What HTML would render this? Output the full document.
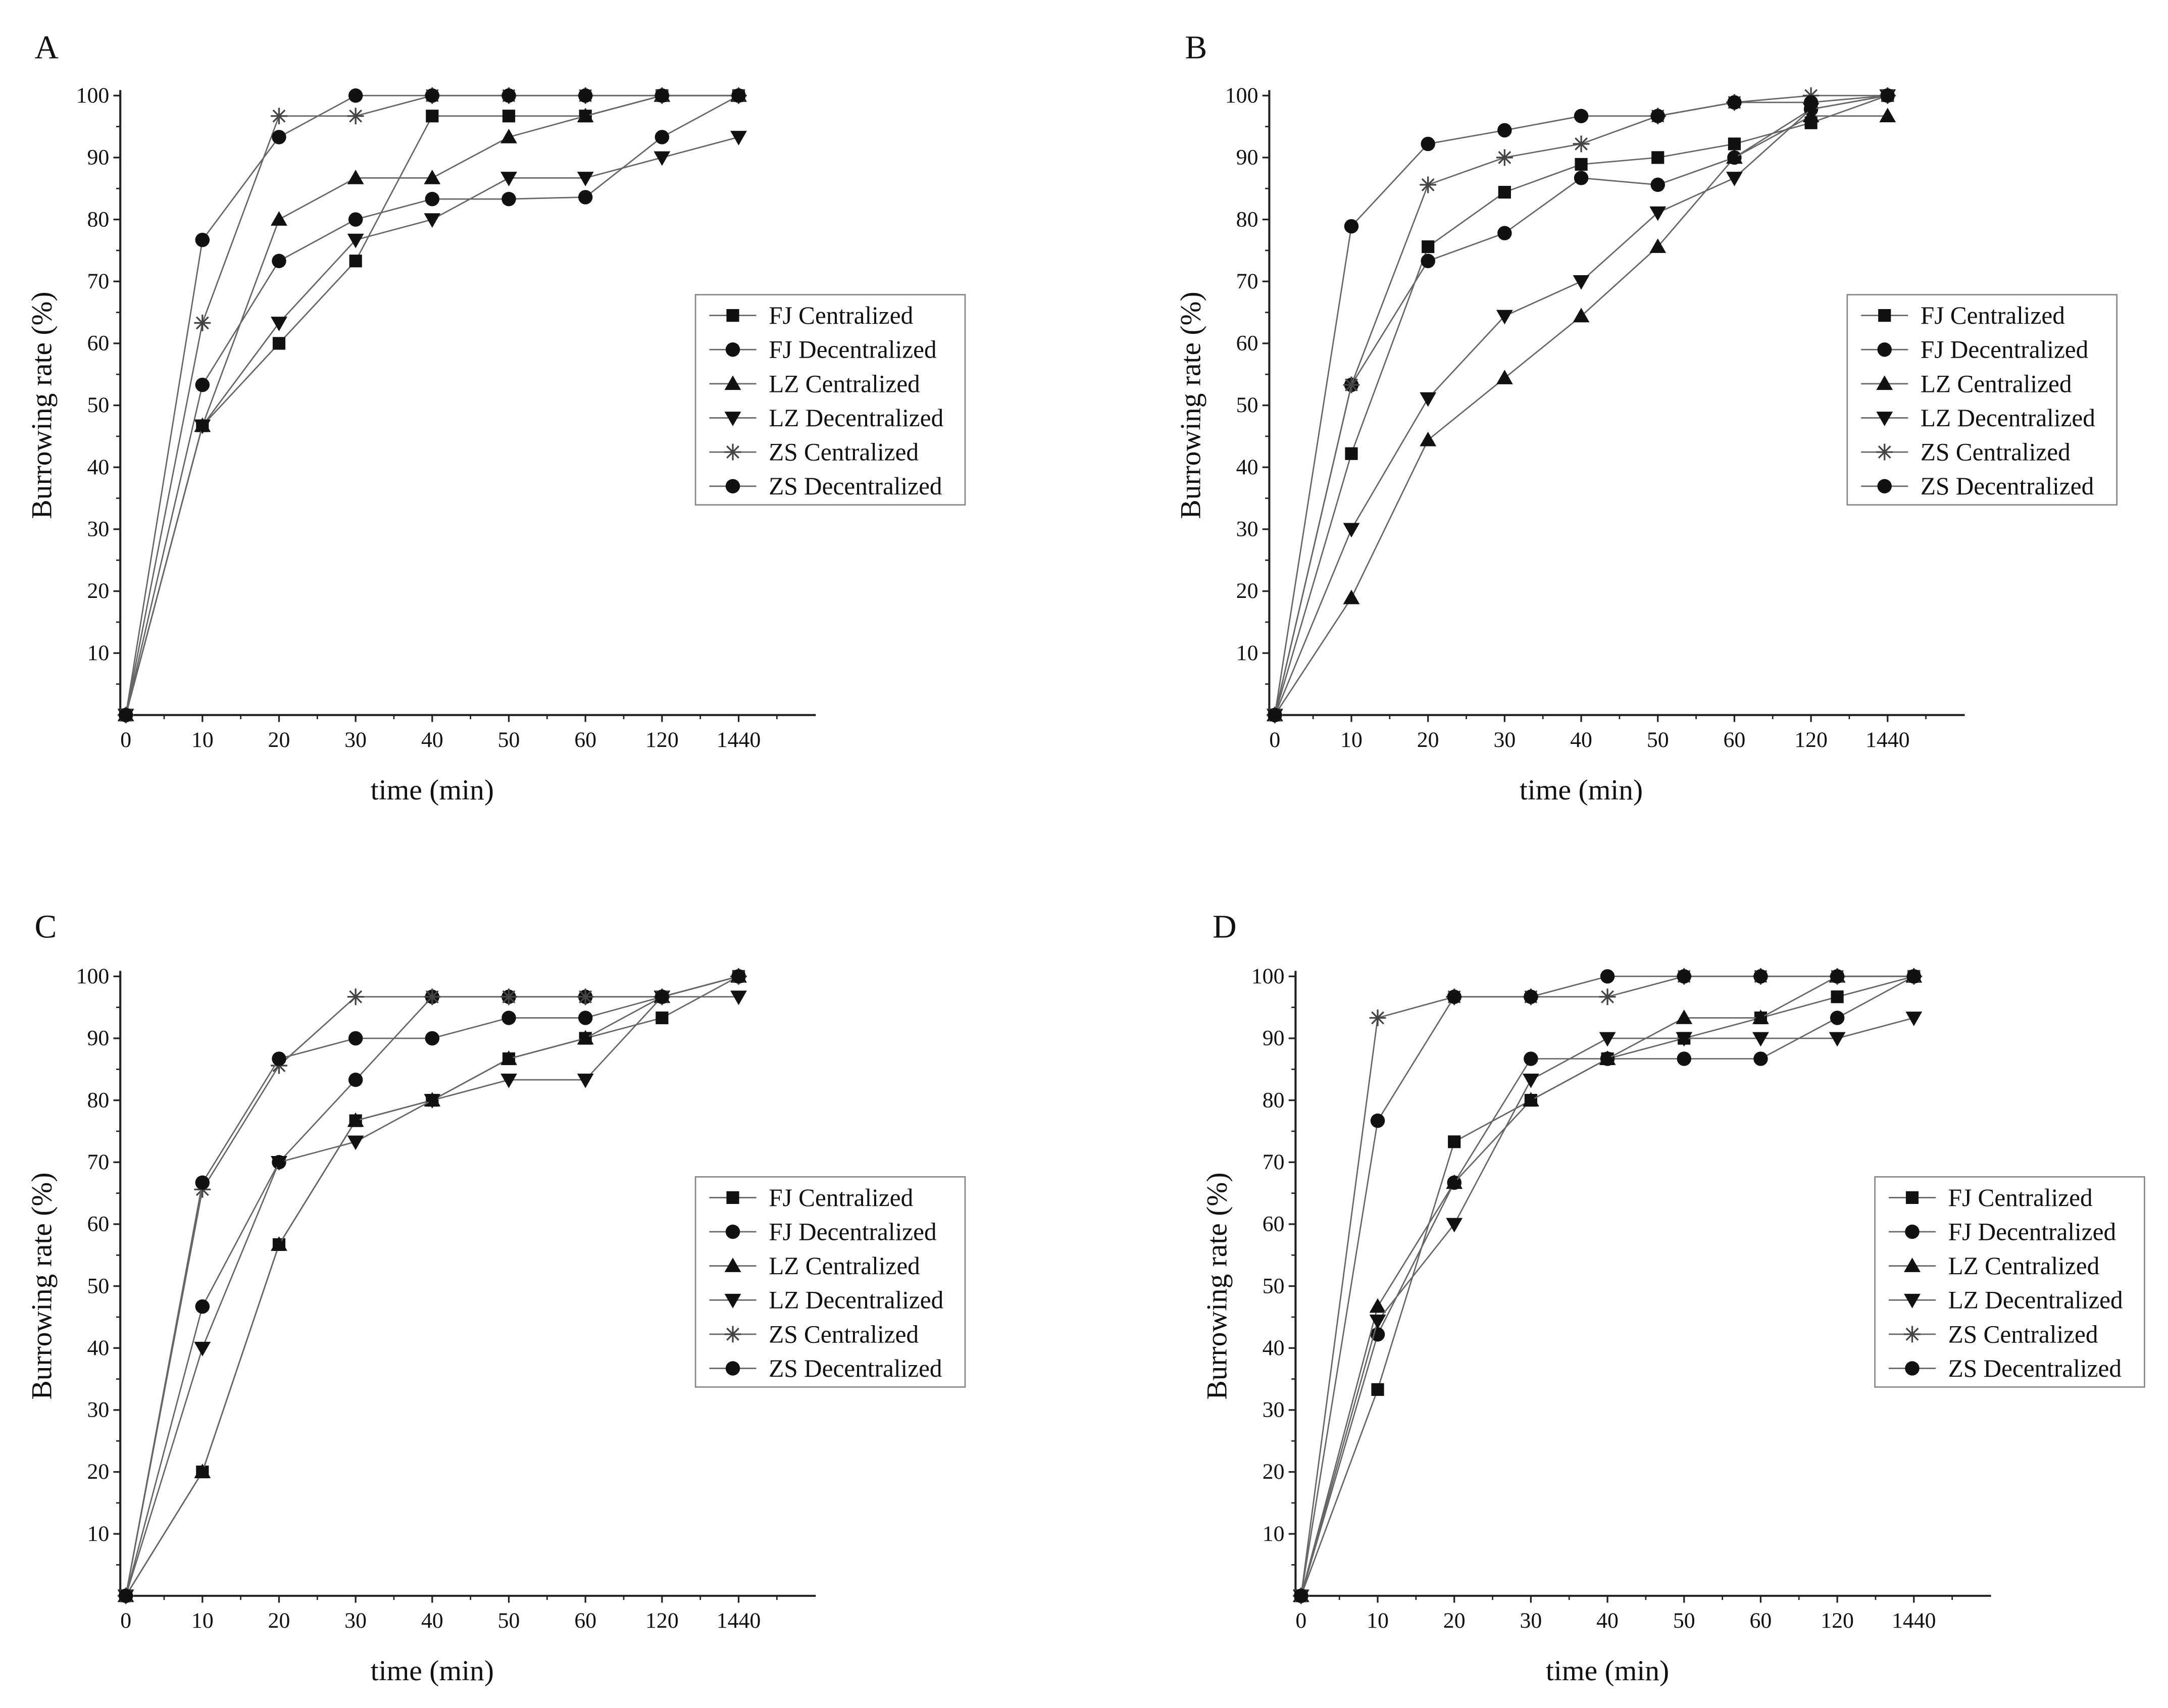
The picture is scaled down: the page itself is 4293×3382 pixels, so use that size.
<!DOCTYPE html>
<html><head><meta charset="utf-8">
<style>
html,body{margin:0;padding:0;background:#fff;}
svg{display:block;}
text{font-family:"Liberation Serif",serif;fill:#111;}
</style></head>
<body>
<svg id="fig" width="4293" height="3382" viewBox="0 0 1568 1235" xmlns="http://www.w3.org/2000/svg"></svg>
<script>
const categories = ["0","10","20","30","40","50","60","120","1440"];
const yTicks = [10,20,30,40,50,60,70,80,90,100];
const seriesNames = ["FJ Centralized","FJ Decentralized","LZ Centralized","LZ Decentralized","ZS Centralized","ZS Decentralized"];
const seriesMarkers = ["square","circle","up","down","star","circle"];
const panelA = [
 [0,46.7,60,73.3,96.7,96.7,96.7,100,100],
 [0,53.3,73.3,80,83.3,83.3,83.6,93.3,100],
 [0,46.7,80,86.7,86.7,93.3,96.7,100,100],
 [0,46.7,63.3,76.7,80,86.7,86.7,90,93.3],
 [0,63.3,96.7,96.7,100,100,100,100,100],
 [0,76.7,93.3,100,100,100,100,100,100]];
const panelB = [
 [0,42.2,75.6,84.4,88.9,90,92.2,95.6,100],
 [0,53.3,73.3,77.8,86.7,85.6,90,97.8,100],
 [0,18.9,44.4,54.4,64.4,75.6,90,96.7,96.7],
 [0,30,51.1,64.4,70,81.1,86.7,97.8,100],
 [0,53.3,85.6,90,92.2,96.7,98.9,100,100],
 [0,78.9,92.2,94.4,96.7,96.7,98.9,98.9,100]];
const panelC = [
 [0,20,56.7,76.7,80,86.7,90,93.3,100],
 [0,46.7,70,83.3,96.7,96.7,96.7,96.7,100],
 [0,20,56.7,76.7,80,86.7,90,96.7,100],
 [0,40,70,73.3,80,83.3,83.3,96.7,96.7],
 [0,65.6,85.6,96.7,96.7,96.7,96.7,96.7,100],
 [0,66.7,86.7,90,90,93.3,93.3,96.7,100]];
const panelD = [
 [0,33.3,73.3,80,86.7,90,93.3,96.7,100],
 [0,42.2,66.7,86.7,86.7,86.7,86.7,93.3,100],
 [0,46.7,66.7,80,86.7,93.3,93.3,100,100],
 [0,44.4,60,83.3,90,90,90,90,93.3],
 [0,93.3,96.7,96.7,96.7,100,100,100,100],
 [0,76.7,96.7,96.7,100,100,100,100,100]];

const NS="http://www.w3.org/2000/svg";
const svg=document.getElementById('fig');
function mk(tag,attrs,parent){const e=document.createElementNS(NS,tag);for(const k in attrs)e.setAttribute(k,attrs[k]);(parent||svg).appendChild(e);return e;}

const panels=[
 {id:"a",label:"A",data:panelA,x0:91,axL:87,y0:517,lx:25,ly:42,leg:[503,213]},
 {id:"b",label:"B",data:panelB,x0:922,axL:918,y0:517,lx:857,ly:42,leg:[1336,213]},
 {id:"c",label:"C",data:panelC,x0:91,axL:87,y0:1154,lx:25,ly:678,leg:[503,851]},
 {id:"d",label:"D",data:panelD,x0:941,axL:937,y0:1154,lx:877,ly:678,leg:[1356,851]}];

const dx=55.4, dy=4.48;
function marker(g,type,x,y){
  const s=4.6;
  let e;
  if(type==="square") e=mk('rect',{x:x-s,y:y-s,width:2*s,height:2*s,fill:'#111'},g);
  else if(type==="circle") e=mk('circle',{cx:x,cy:y,r:5.2,fill:'#111'},g);
  else if(type==="up") e=mk('polygon',{points:`${x},${y-6} ${x-6},${y+4.5} ${x+6},${y+4.5}`,fill:'#111'},g);
  else if(type==="down") e=mk('polygon',{points:`${x},${y+6} ${x-6},${y-4.5} ${x+6},${y-4.5}`,fill:'#111'},g);
  else { e=mk('path',{d:`M${x-6} ${y}H${x+6}M${x} ${y-6}V${y+6}M${x-4.3} ${y-4.3}L${x+4.3} ${y+4.3}M${x-4.3} ${y+4.3}L${x+4.3} ${y-4.3}`,stroke:'#444','stroke-width':1.2,fill:'none'},g); }
  return e;
}

panels.forEach(p=>{
  const g=mk('g',{});
  
  
  const X=i=>p.x0+i*dx, Y=v=>p.y0-v*dy;
  const lab=mk('text',{x:p.lx,y:p.ly,'font-size':24},g); lab.textContent=p.label;
  
  
  const ax=mk('path',{d:`M${p.axL} ${Y(100)-4}V${p.y0}H${p.axL+503}`,stroke:'#222','stroke-width':1.5,fill:'none'},g);
  
  
  yTicks.forEach(v=>{
    mk('line',{x1:p.axL-5,x2:p.axL,y1:Y(v),y2:Y(v),stroke:'#222','stroke-width':1.2},g);
    mk('line',{x1:p.axL-3,x2:p.axL,y1:Y(v-5),y2:Y(v-5),stroke:'#222','stroke-width':1},g);
    const t=mk('text',{x:p.axL-8,y:Y(v)+5,'font-size':16,'text-anchor':'end'},g);t.textContent=v;
    
    
  });
  categories.forEach((c,i)=>{
    mk('line',{x1:X(i),x2:X(i),y1:p.y0,y2:p.y0+5,stroke:'#222','stroke-width':1.2},g);
    mk('line',{x1:X(i)+dx/2,x2:X(i)+dx/2,y1:p.y0,y2:p.y0+3,stroke:'#222','stroke-width':1},g);
    const t=mk('text',{x:X(i),y:p.y0+23,'font-size':16,'text-anchor':'middle'},g);t.textContent=c;
    
    
  });
  const xt=mk('text',{x:X(4),y:p.y0+61,'font-size':21,'text-anchor':'middle'},g);xt.textContent="time (min)";
  
  
  const yc=(Y(100)+p.y0)/2;
  const yt=mk('text',{x:p.axL-50,y:yc,'font-size':21,'text-anchor':'middle',transform:`rotate(-90 ${p.axL-50} ${yc})`},g);yt.textContent="Burrowing rate (%)";
  
  
  p.data.forEach((vals,si)=>{
    const sg=mk('g',{},g);
    
    
    mk('polyline',{points:vals.map((v,i)=>X(i)+','+Y(v)).join(' '),fill:'none',stroke:'#666','stroke-width':1},sg);
    vals.forEach((v,i)=>{
      const m=marker(sg,seriesMarkers[si],X(i),Y(v));
      
      
    });
  });
  const [lx,ly]=p.leg;
  const lg=mk('g',{},g);
  
  
  mk('rect',{x:lx,y:ly,width:195,height:152,fill:'#fff',stroke:'#888','stroke-width':1},lg);
  seriesNames.forEach((n,si)=>{
    const yy=ly+15+si*24.7;
    const eg=mk('g',{},lg);
    
    
    mk('line',{x1:lx+10,x2:lx+44,y1:yy,y2:yy,stroke:'#666','stroke-width':1},eg);
    marker(eg,seriesMarkers[si],lx+27,yy);
    const t=mk('text',{x:lx+53,y:yy+6,'font-size':18},eg);t.textContent=n;
  });
});
</script>
</body></html>
